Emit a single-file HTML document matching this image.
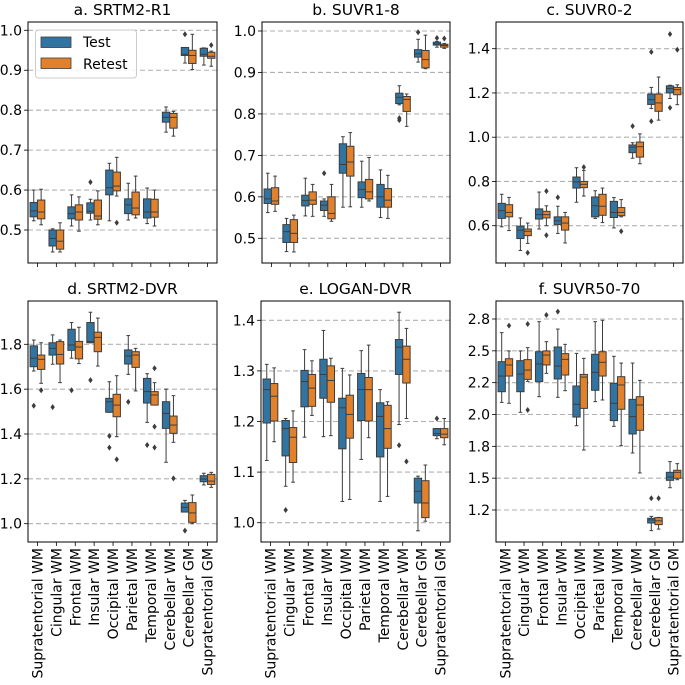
<!DOCTYPE html>
<html><head><meta charset="utf-8">
<style>
html,body{margin:0;padding:0;background:#fff;}
svg{display:block;font-family:"DejaVu Sans","Liberation Sans",sans-serif;}
</style></head>
<body>
<svg id="chart" width="685" height="685" viewBox="0 0 685 685" xmlns="http://www.w3.org/2000/svg"></svg>
<script>
const categories=["Supratentorial WM","Cingular WM","Frontal WM","Insular WM","Occipital WM","Parietal WM","Temporal WM","Cerebellar WM","Cerebellar GM","Supratentorial GM"];
// [lo, q1, median, q3, hi]
const aTest=[[.523,.533,.548,.569,.600],[.445,.460,.479,.500,.503],[.510,.528,.541,.558,.588],[.525,.542,.547,.568,.577],[.523,.588,.606,.650,.667],[.525,.541,.563,.578,.617],[.516,.530,.545,.578,.605],[.745,.770,.782,.795,.808],[.918,.937,.940,.957,.957],[.913,.935,.940,.955,.956]];
const aRetest=[[.513,.528,.545,.575,.602],[.445,.452,.472,.500,.518],[.497,.525,.545,.563,.583],[.513,.527,.535,.575,.598],[.585,.598,.610,.645,.682],[.530,.538,.555,.595,.635],[.510,.532,.545,.577,.600],[.735,.755,.782,.792,.797],[.902,.917,.937,.950,.990],[.910,.930,.935,.945,.948]];
const aTestOut=[[],[],[],[.620],[],[],[],[],[.990],[]];
const aRetestOut=[[],[],[],[],[.518],[],[],[],[],[.963]];
const bTest=[[.562,.584,.595,.619,.657],[.468,.490,.516,.533,.548],[.554,.578,.591,.604,.645],[.553,.567,.580,.590,.595],[.575,.657,.678,.728,.745],[.575,.598,.618,.636,.686],[.550,.575,.600,.630,.665],[.822,.825,.840,.850,.868],[.925,.937,.945,.955,.980],[.961,.966,.969,.973,.975]];
const bRetest=[[.565,.582,.590,.622,.650],[.467,.490,.512,.545,.556],[.553,.582,.592,.612,.630],[.541,.547,.560,.600,.630],[.576,.650,.684,.722,.755],[.590,.595,.612,.642,.695],[.548,.575,.592,.620,.652],[.770,.806,.835,.842,.848],[.909,.911,.931,.953,.990],[.958,.961,.965,.968,.970]];
const bTestOut=[[],[],[],[.657],[],[],[],[.785,.790],[.997],[.983]];
const bRetestOut=[[],[],[],[],[],[],[],[],[],[.982]];
const cTest=[[.595,.633,.668,.701,.742],[.488,.542,.580,.598,.635],[.585,.630,.650,.676,.752],[.565,.605,.622,.640,.688],[.706,.770,.798,.820,.862],[.633,.640,.690,.730,.758],[.590,.637,.660,.710,.727],[.905,.930,.955,.965,.975],[1.130,1.148,1.170,1.195,1.225],[1.175,1.200,1.220,1.232,1.235]];
const cRetest=[[.578,.640,.660,.695,.728],[.520,.555,.575,.585,.612],[.600,.635,.650,.665,.690],[.522,.580,.612,.640,.660],[.734,.772,.787,.800,.850],[.614,.647,.688,.742,.770],[.640,.645,.660,.682,.718],[.880,.910,.957,.978,1.015],[1.077,1.117,1.155,1.195,1.272],[1.147,1.192,1.215,1.225,1.237]];
const cTestOut=[[],[],[],[.728],[],[],[],[1.050],[1.385,1.072],[1.466,1.133]];
const cRetestOut=[[],[.478],[.756,.557],[],[.865],[],[.575],[],[],[1.395]];
const dTest=[[1.681,1.700,1.738,1.793,1.819],[1.711,1.752,1.782,1.807,1.842],[1.738,1.773,1.797,1.867,1.897],[1.807,1.807,1.812,1.897,1.943],[1.497,1.497,1.544,1.559,1.633],[1.666,1.712,1.748,1.775,1.839],[1.452,1.538,1.589,1.648,1.669],[1.274,1.425,1.492,1.544,1.600],[1.052,1.052,1.073,1.092,1.104],[1.173,1.187,1.199,1.214,1.225]];
const dRetest=[[1.626,1.688,1.733,1.752,1.807],[1.629,1.712,1.755,1.812,1.819],[1.714,1.735,1.788,1.813,1.876],[1.703,1.767,1.831,1.854,1.917],[1.388,1.477,1.529,1.577,1.660],[1.592,1.697,1.752,1.767,1.782],[1.529,1.529,1.574,1.589,1.629],[1.363,1.403,1.440,1.480,1.571],[1.000,1.006,1.048,1.094,1.128],[1.162,1.175,1.190,1.220,1.229]];
const dTestOut=[[1.526],[1.520],[1.595],[1.640],[1.391,1.339],[1.543],[1.351],[],[0.969],[]];
const dRetestOut=[[1.595],[],[],[],[1.287],[],[1.693,1.433,1.340],[1.202],[],[]];
const eTest=[[1.123,1.197,1.263,1.284,1.313],[1.072,1.132,1.186,1.202,1.206],[1.169,1.229,1.279,1.301,1.342],[1.170,1.246,1.293,1.323,1.380],[1.042,1.146,1.227,1.246,1.305],[1.125,1.202,1.263,1.295,1.340],[1.042,1.130,1.210,1.237,1.263],[1.194,1.293,1.347,1.362,1.416],[0.984,1.039,1.062,1.088,1.092],[1.166,1.172,1.176,1.186,1.186]];
const eRetest=[[1.160,1.201,1.250,1.275,1.306],[1.080,1.119,1.169,1.188,1.221],[1.212,1.230,1.266,1.293,1.320],[1.172,1.238,1.281,1.310,1.325],[1.046,1.167,1.214,1.252,1.292],[1.168,1.201,1.263,1.287,1.351],[1.052,1.147,1.186,1.232,1.239],[1.206,1.276,1.323,1.349,1.384],[1.003,1.010,1.039,1.083,1.114],[1.154,1.168,1.175,1.186,1.206]];
const eTestOut=[[],[1.025],[],[],[],[],[],[1.153],[],[1.206]];
const eRetestOut=[[],[],[],[],[],[],[],[1.121],[],[]];
const fTest=[[2.095,2.179,2.302,2.415,2.643],[2.017,2.179,2.318,2.423,2.499],[2.140,2.258,2.397,2.493,2.729],[2.135,2.279,2.381,2.530,2.671],[1.912,1.980,2.080,2.224,2.480],[2.101,2.190,2.331,2.473,2.729],[1.907,1.952,2.088,2.245,2.457],[1.698,1.847,1.983,2.119,2.404],[1.088,1.148,1.172,1.185,1.200],[1.425,1.483,1.509,1.546,1.630]];
const fRetest=[[2.088,2.302,2.389,2.438,2.499],[2.260,2.276,2.349,2.431,2.525],[2.323,2.389,2.467,2.499,2.572],[2.187,2.310,2.433,2.478,2.551],[1.721,2.048,2.294,2.315,2.441],[2.114,2.302,2.410,2.493,2.740],[1.755,2.041,2.232,2.297,2.404],[1.541,1.876,2.075,2.140,2.268],[1.100,1.135,1.165,1.190,1.192],[1.488,1.499,1.546,1.562,1.614]];
const fTestOut=[[],[],[],[2.808],[],[],[],[],[1.342],[]];
const fRetestOut=[[2.698],[2.711,2.035],[2.781],[],[],[],[],[],[1.342],[]];
const tickAB=[0.5,0.6,0.7,0.8,0.9,1.0];
const tickABLabels=["0.5","0.6","0.7","0.8","0.9","1.0"];
const tickC=[0.6,0.8,1.0,1.2,1.4];
const tickCLabels=["0.6","0.8","1.0","1.2","1.4"];
const tickD=[1.0,1.2,1.4,1.6,1.8];
const tickDLabels=["1.0","1.2","1.4","1.6","1.8"];
const tickE=[1.0,1.1,1.2,1.3,1.4];
const tickELabels=["1.0","1.1","1.2","1.3","1.4"];
const tickF=[1.25,1.5,1.75,2.0,2.25,2.5,2.75];
const tickFLabels=["1.2","1.5","1.8","2.0","2.2","2.5","2.8"];

const NS="http://www.w3.org/2000/svg";
const svg=document.getElementById('chart');
function mk(tag,attrs,parent){const e=document.createElementNS(NS,tag);for(const k in attrs)e.setAttribute(k,attrs[k]);(parent||svg).appendChild(e);return e;}
const BLUE="#3274a1",ORANGE="#e1812c",EDGE="#3d3d3d";

const panels=[
 {key:"a",title:"a. SRTM2-R1",L:28,R:217,T:22,B:263,v1:1.0,y1:30.3,v2:0.5,y2:230,ticks:tickAB,labels:tickABLabels,test:aTest,retest:aRetest,to:aTestOut,ro:aRetestOut},
 {key:"b",title:"b. SUVR1-8",L:262,R:450,T:22,B:263,v1:1.0,y1:31,v2:0.5,y2:238.3,ticks:tickAB,labels:tickABLabels,test:bTest,retest:bRetest,to:bTestOut,ro:bRetestOut},
 {key:"c",title:"c. SUVR0-2",L:496,R:683,T:22,B:263,v1:1.4,y1:48.7,v2:0.6,y2:225.7,ticks:tickC,labels:tickCLabels,test:cTest,retest:cRetest,to:cTestOut,ro:cRetestOut},
 {key:"d",title:"d. SRTM2-DVR",L:28,R:217,T:301,B:542,v1:1.8,y1:344.3,v2:1.0,y2:523.7,ticks:tickD,labels:tickDLabels,test:dTest,retest:dRetest,to:dTestOut,ro:dRetestOut},
 {key:"e",title:"e. LOGAN-DVR",L:261,R:450,T:301,B:542,v1:1.4,y1:320.3,v2:1.0,y2:522.7,ticks:tickE,labels:tickELabels,test:eTest,retest:eRetest,to:eTestOut,ro:eRetestOut},
 {key:"f",title:"f. SUVR50-70",L:496,R:683,T:301,B:542,v1:2.75,y1:319,v2:1.25,y2:510,ticks:tickF,labels:tickFLabels,test:fTest,retest:fRetest,to:fTestOut,ro:fRetestOut}
];

panels.forEach((p,pi)=>{
 const g=mk('g',{});
 
 
 const yS=v=>p.y1+(v-p.v1)*(p.y2-p.y1)/(p.v2-p.v1);
 const bw=(p.R-p.L)/categories.length;
 const xS=i=>p.L+bw*(i+0.5);
 p.ticks.forEach((t,ti)=>{
  const y=yS(t);
  const gl=mk('line',{x1:p.L,x2:p.R,y1:y,y2:y,stroke:"#b0b0b0","stroke-width":1.1,"stroke-dasharray":"5,3"},g);
  
  
  mk('line',{x1:p.L-4,x2:p.L,y1:y,y2:y,stroke:"#000","stroke-width":0.8},g);
  const tl=mk('text',{x:p.L-6,y:y+5,"text-anchor":"end","font-size":14,fill:"#000"},g);
  tl.textContent=p.labels[ti];
  
  
 });
 const boxW=bw*0.39;
 function drawBox(d,outs,cx,col,name){
  const [lo,q1,md,q3,hi]=d;
  const bg=mk('g',{},g);
  
  
  mk('line',{x1:cx,x2:cx,y1:yS(hi),y2:yS(q3),stroke:EDGE,"stroke-width":1},bg);
  mk('line',{x1:cx,x2:cx,y1:yS(q1),y2:yS(lo),stroke:EDGE,"stroke-width":1},bg);
  mk('line',{x1:cx-boxW/4,x2:cx+boxW/4,y1:yS(hi),y2:yS(hi),stroke:EDGE,"stroke-width":1},bg);
  mk('line',{x1:cx-boxW/4,x2:cx+boxW/4,y1:yS(lo),y2:yS(lo),stroke:EDGE,"stroke-width":1},bg);
  mk('rect',{x:cx-boxW/2,y:yS(q3),width:boxW,height:Math.max(0.8,yS(q1)-yS(q3)),fill:col,stroke:EDGE,"stroke-width":1},bg);
  mk('line',{x1:cx-boxW/2,x2:cx+boxW/2,y1:yS(md),y2:yS(md),stroke:EDGE,"stroke-width":1},bg);
  outs.forEach(o=>{const y=yS(o);
   const dm=mk('path',{d:`M${cx},${y-3} L${cx+2.2},${y} L${cx},${y+3} L${cx-2.2},${y} Z`,fill:EDGE},bg);
   
   
  });
 }
 categories.forEach((c,i)=>{
  const cx=xS(i);
  drawBox(p.test[i],p.to[i],cx-boxW/2,BLUE,'box-test-'+i);
  drawBox(p.retest[i],p.ro[i],cx+boxW/2,ORANGE,'box-retest-'+i);
  mk('line',{x1:cx,x2:cx,y1:p.B,y2:p.B+4,stroke:"#000","stroke-width":0.8},g);
  if(pi>=3){
   const xl=mk('text',{x:0,y:0,transform:`translate(${cx+5},${p.B+6}) rotate(-90)`,"text-anchor":"end","font-size":14,fill:"#000"},g);
   xl.textContent=c;
   
   
  }
 });
 const fr=mk('rect',{x:p.L,y:p.T,width:p.R-p.L,height:p.B-p.T,fill:"none",stroke:"#000","stroke-width":1},g);
 
 
 const tt=mk('text',{x:(p.L+p.R)/2,y:p.T-7,"text-anchor":"middle","font-size":15.5,fill:"#000"},g);
 tt.textContent=p.title;
 
 
});
const lg=mk('g',{});


mk('rect',{x:35.5,y:30,width:101,height:48,rx:3,fill:"#fff","fill-opacity":0.85,stroke:"#ccc"},lg);
const l1=mk('rect',{x:41,y:37,width:30,height:10.5,fill:BLUE,stroke:EDGE,"stroke-width":0.8},lg);


const t1=mk('text',{x:83,y:47,"font-size":14},lg);t1.textContent="Test";


const l2=mk('rect',{x:41,y:58,width:30,height:10.5,fill:ORANGE,stroke:EDGE,"stroke-width":0.8},lg);


const t2=mk('text',{x:83,y:69,"font-size":14},lg);t2.textContent="Retest";


</script>
</body></html>
